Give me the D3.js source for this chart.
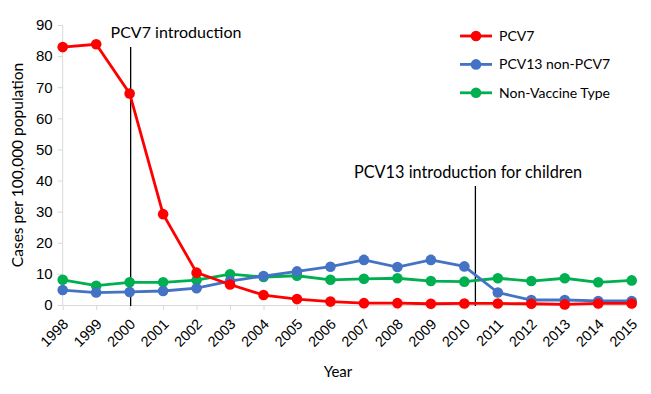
<!DOCTYPE html>
<html><head><meta charset="utf-8">
<script src="https://cdnjs.cloudflare.com/ajax/libs/d3/7.8.5/d3.min.js"></script>
<style>body{margin:0;background:#fff}svg{display:block;font-family:Lato,"Open Sans",sans-serif}</style>
</head><body><svg id="c" width="651" height="394"></svg>
<script>
const years = [1998,1999,2000,2001,2002,2003,2004,2005,2006,2007,2008,2009,2010,2011,2012,2013,2014,2015];
const pcv7 = [82.9,83.8,68.0,29.2,10.4,6.6,3.2,1.9,1.1,0.6,0.6,0.4,0.5,0.5,0.4,0.2,0.5,0.5];
const pcv13non7 = [4.8,4.0,4.2,4.5,5.4,7.7,9.3,10.8,12.3,14.5,12.2,14.5,12.4,4.0,1.6,1.6,1.3,1.3];
const nonVaccine = [8.1,6.2,7.3,7.3,8.0,9.9,9.0,9.4,8.1,8.4,8.6,7.7,7.5,8.6,7.7,8.6,7.3,7.9];
const seriesNames = ["PCV7","PCV13 non-PCV7","Non-Vaccine Type"];
const seriesColors = ["#ff0000","#4472c4","#00b050"];
const yTicks = [0,10,20,30,40,50,60,70,80,90];
const annotations = [
  {year: 2000.03, top: 47, text: "PCV7 introduction"},
  {year: 2010.33, top: 186, text: "PCV13 introduction for children"}
];

const svg = d3.select("#c");
const x = d3.scaleLinear().domain([1998,2015]).range([62.7,631.7]);
const y = d3.scaleLinear().domain([0,90]).range([305,25]);

// y axis
const yAxis = svg.append("g").attr("transform","translate(62.7,0)")
  .call(d3.axisLeft(y).tickValues(yTicks).tickSize(5).tickPadding(5));
yAxis.select(".domain").attr("stroke","#d9d9d9").attr("d","M-5,25.5H0V305.5");
yAxis.selectAll(".tick line").attr("stroke","#d9d9d9");
yAxis.selectAll("text").attr("font-size",15).attr("fill","#000");

// x axis
const xAxis = svg.append("g").attr("transform","translate(0,305)")
  .call(d3.axisBottom(x).tickValues(years).tickFormat(d3.format("d")).tickSize(5).tickSizeOuter(0));
xAxis.select(".domain").attr("stroke","#d9d9d9");
xAxis.selectAll(".tick line").attr("stroke","#d9d9d9");
xAxis.selectAll("text").attr("font-size",14.5).attr("fill","#000")
  .attr("text-anchor","end").attr("dy",0).attr("y",0)
  .attr("transform","translate(6,20) rotate(-45)");

// axis titles
svg.append("text").attr("x",338).attr("y",377).attr("text-anchor","middle").attr("font-size",15).text("Year");
svg.append("text").attr("transform","translate(23,165) rotate(-90)").attr("text-anchor","middle").attr("font-size",15.5).text("Cases per 100,000 population");

// annotation lines
annotations.forEach(a=>{
  svg.append("line").attr("x1",x(a.year)).attr("x2",x(a.year)).attr("y1",a.top).attr("y2",306)
    .attr("stroke","#000").attr("stroke-width",1.3);
});
svg.append("text").attr("x",176).attr("y",38).attr("text-anchor","middle").attr("font-size",16).text(annotations[0].text);
svg.append("text").attr("x",468).attr("y",178).attr("text-anchor","middle").attr("font-size",16.3).text(annotations[1].text);

// series
const data = [pcv7,pcv13non7,nonVaccine];
const line = d3.line().x((d,i)=>x(years[i])).y(d=>y(d));
const order = [2,1,0];
order.forEach(k=>{
  const g = svg.append("g");
  g.append("path").attr("d",line(data[k])).attr("fill","none").attr("stroke",seriesColors[k]).attr("stroke-width",2.8);
  g.selectAll("circle").data(data[k]).enter().append("circle")
    .attr("cx",(d,i)=>x(years[i])).attr("cy",d=>y(d)).attr("r",5.3).attr("fill",seriesColors[k]);
});

// legend
const lg = svg.append("g");
seriesNames.forEach((n,i)=>{
  const yy = 36 + i*28.4;
  lg.append("line").attr("x1",460).attr("x2",492).attr("y1",yy).attr("y2",yy).attr("stroke",seriesColors[i]).attr("stroke-width",2.8);
  lg.append("circle").attr("cx",476).attr("cy",yy).attr("r",5.3).attr("fill",seriesColors[i]);
  lg.append("text").attr("x",499).attr("y",yy+5).attr("font-size",14).text(n);
});
</script></body></html>
